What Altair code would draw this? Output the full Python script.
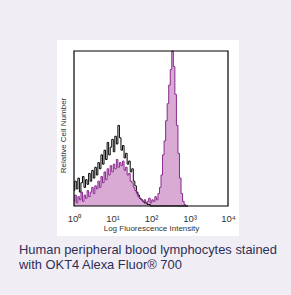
import altair as alt
import pandas as pd

# Log10 fluorescence bin positions (channels)
log_bins = [0.00, 0.04, 0.08, 0.12, 0.16, 0.20, 0.24, 0.28, 0.32, 0.36,
            0.40, 0.44, 0.48, 0.52, 0.56, 0.60, 0.64, 0.68, 0.72, 0.76,
            0.80, 0.84, 0.88, 0.92, 0.96, 1.00, 1.04, 1.08, 1.12, 1.16,
            1.20, 1.24, 1.28, 1.32, 1.36, 1.40, 1.44, 1.48, 1.52, 1.56,
            1.60, 1.64, 1.68, 1.72, 1.76, 1.80, 1.84, 1.88, 1.92, 1.96,
            2.00, 2.04, 2.08, 2.12, 2.16, 2.20, 2.24, 2.28, 2.32, 2.36,
            2.40, 2.44, 2.48, 2.52, 2.56, 2.60, 2.64, 2.68, 2.72, 2.76,
            2.80, 2.84, 2.88, 2.92, 2.96]

# Isotype control (black outline)
control = [0.10, 0.16, 0.11, 0.18, 0.09, 0.15, 0.19, 0.12, 0.17, 0.14,
           0.21, 0.16, 0.23, 0.18, 0.25, 0.20, 0.28, 0.24, 0.33, 0.27,
           0.36, 0.30, 0.41, 0.33, 0.38, 0.43, 0.35, 0.45, 0.40, 0.52,
           0.44, 0.36, 0.39, 0.31, 0.34, 0.27, 0.29, 0.22, 0.24, 0.16,
           0.13, 0.09, 0.07, 0.05, 0.04, 0.03, 0.02, 0.02, 0.01, 0.01,
           0.00, 0.00, 0.00, 0.00, 0.00, 0.00, 0.00, 0.00, 0.00, 0.00,
           0.00, 0.00, 0.00, 0.00, 0.00, 0.00, 0.00, 0.00, 0.00, 0.00,
           0.00, 0.00, 0.00, 0.00, 0.00]

# OKT4 Alexa Fluor 700 stained (purple filled)
stained = [0.03, 0.07, 0.02, 0.06, 0.04, 0.09, 0.03, 0.07, 0.05, 0.10,
           0.06, 0.09, 0.12, 0.08, 0.13, 0.11, 0.16, 0.12, 0.19, 0.15,
           0.22, 0.17, 0.24, 0.20, 0.26, 0.22, 0.27, 0.24, 0.30, 0.25,
           0.28, 0.26, 0.29, 0.23, 0.25, 0.20, 0.21, 0.16, 0.15, 0.12,
           0.10, 0.08, 0.06, 0.05, 0.04, 0.03, 0.04, 0.02, 0.03, 0.05,
           0.02, 0.04, 0.03, 0.06, 0.04, 0.08, 0.12, 0.20, 0.33, 0.42,
           0.55, 0.66, 0.78, 0.88, 1.00, 0.90, 0.72, 0.52, 0.34, 0.18,
           0.08, 0.03, 0.01, 0.00, 0.00]

tick_values = [0, 1, 2, 3, 4]
tick_labels = ["10⁰", "10¹", "10²", "10³", "10⁴"]
caption = "Human peripheral blood lymphocytes stained\nwith OKT4 Alexa Fluor® 700"

df = pd.DataFrame({"log": log_bins, "control": control, "stained": stained})

FONT = "Liberation Sans"
label_expr = "[" + ",".join("'%s'" % t for t in tick_labels) + "][datum.value]"

x_axis = alt.Axis(values=tick_values, labelExpr=label_expr, ticks=False,
                  domain=False, grid=False, labelFont=FONT, labelFontSize=9.5,
                  labelColor="#333333", labelPadding=7, labelFlush=False,
                  labelOverlap=False, labelBound=False,
                  title="Log Fluorescence Intensity",
                  titleFont=FONT, titleFontSize=8, titleFontWeight="normal",
                  titleColor="#333333", titlePadding=2, zindex=2)
x_scale = alt.Scale(domain=[0, 4])
y_scale = alt.Scale(domain=[0, 1])
y_axis = alt.Axis(labels=False, ticks=False, domain=False, grid=False,
                  title="Relative Cell Number", titleFont=FONT, titleFontSize=8,
                  titleFontWeight="normal", titleColor="#333333",
                  titleAngle=270, titleX=-11, titleY=84, titleAlign="center",
                  titleBaseline="middle", zindex=2)

one = pd.DataFrame({"a": [0]})
panel = alt.Chart(one).mark_rect(color="white").encode(
    x=alt.value(-17), x2=alt.value(165), y=alt.value(-11), y2=alt.value(185))

base = alt.Chart(df)
fill = base.mark_area(interpolate="step", color="#d9abd4", opacity=1).encode(
    x=alt.X("log:Q", scale=x_scale, axis=x_axis),
    y=alt.Y("stained:Q", scale=y_scale, axis=y_axis))
purple_line = base.mark_line(interpolate="step", color="#8a2a8f", strokeWidth=1).encode(
    x=alt.X("log:Q", scale=x_scale, axis=x_axis),
    y=alt.Y("stained:Q", scale=y_scale, axis=y_axis))
black_line = base.mark_line(interpolate="step", color="black", strokeWidth=1).encode(
    x=alt.X("log:Q", scale=x_scale, axis=x_axis),
    y=alt.Y("control:Q", scale=y_scale, axis=y_axis))

frame = alt.Chart(one).mark_rect(fill=None, stroke="black", strokeWidth=1.2).encode(
    x=alt.value(0), x2=alt.value(154), y=alt.value(0), y2=alt.value(155))

text = alt.Chart(pd.DataFrame({"t": [caption]})).mark_text(
    align="left", baseline="alphabetic", font=FONT, fontSize=12.9,
    color="#2e2e58", lineBreak="\n", lineHeight=15).encode(
    x=alt.value(-55), y=alt.value(203), text="t:N")

chart = alt.layer(panel, fill, black_line, purple_line, frame, text).properties(
    width=154, height=155,
    background="#f0eef4",
    padding={"left": 74, "top": 51, "right": 63, "bottom": 89},
    autosize=alt.AutoSizeParams(type="none"),
).configure_view(strokeWidth=0).configure_axis(labelOverlap=False)

chart.save("out.html", embed_options={"renderer": "svg", "actions": False})
